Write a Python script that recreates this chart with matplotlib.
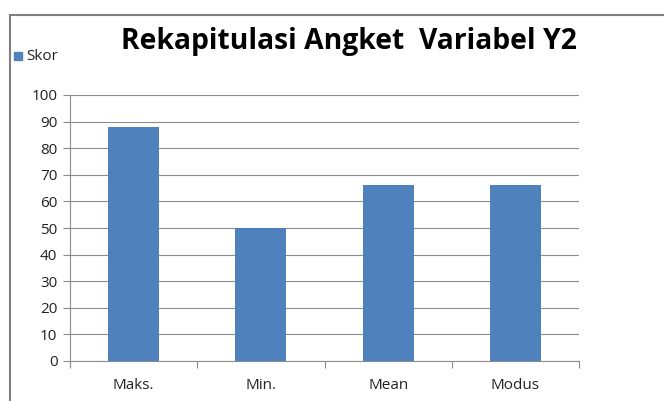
import numpy as np
import matplotlib.pyplot as plt
from matplotlib.lines import Line2D
from matplotlib.patches import Rectangle

categories = ['Maks.', 'Min.', 'Mean', 'Modus']
skor = [88, 50, 66, 66]
yticks = list(range(0, 101, 10))

bar_color = '#4F81BD'
grid_color = '#8C8C8C'
font = ['Open Sans', 'DejaVu Sans']

fig = plt.figure(figsize=(6.64, 4.01), dpi=100)

# outer chart frame (left and top edge visible)
fig.add_artist(Line2D([10/664, 10/664], [0, 1 - 15/401], transform=fig.transFigure,
                      color='#808080', lw=1.5))
fig.add_artist(Line2D([10/664, 1], [1 - 15/401, 1 - 15/401], transform=fig.transFigure,
                      color='#808080', lw=1.5))

ax = fig.add_axes([70/664, 1 - 361/401, 509/664, 266/401])
x = np.arange(len(categories))
ax.bar(x, skor, width=0.4, color=bar_color, zorder=3)

ax.set_xlim(-0.5, len(categories) - 0.5)
ax.set_ylim(0, 100)
ax.set_yticks(yticks)
ax.set_yticklabels([str(v) for v in yticks], fontsize=11, family=font, color='#222222')
ax.set_xticks(np.arange(-0.5, len(categories)), minor=False)
ax.set_xticklabels([''] * (len(categories) + 1))
ax.set_xticks(x, minor=True)
ax.set_xticklabels(categories, minor=True, fontsize=11, family=font, color='#222222')
ax.tick_params(axis='x', which='minor', length=0, pad=12)
ax.tick_params(axis='x', which='major', length=5, color=grid_color, direction='out')
ax.tick_params(axis='y', length=5, color=grid_color, direction='out', pad=4)

ax.yaxis.grid(True, color=grid_color, lw=0.8, zorder=0)
for s in ['top', 'right']:
    ax.spines[s].set_visible(False)
ax.spines['left'].set_color(grid_color)
ax.spines['bottom'].set_color(grid_color)

fig.text(0.525, 1 - 42/401, 'Rekapitulasi Angket  Variabel Y2', ha='center', va='center',
         fontsize=20.3, fontweight='bold', family=font)

# legend
fig.add_artist(Rectangle((14/664, 1 - 60/401), 8/664, 8/401, transform=fig.transFigure,
                         color=bar_color))
fig.text(26/664, 1 - 56/401, 'Skor', ha='left', va='center', fontsize=11, family=font,
         color='#222222')

fig.savefig('out.png', dpi=100)
